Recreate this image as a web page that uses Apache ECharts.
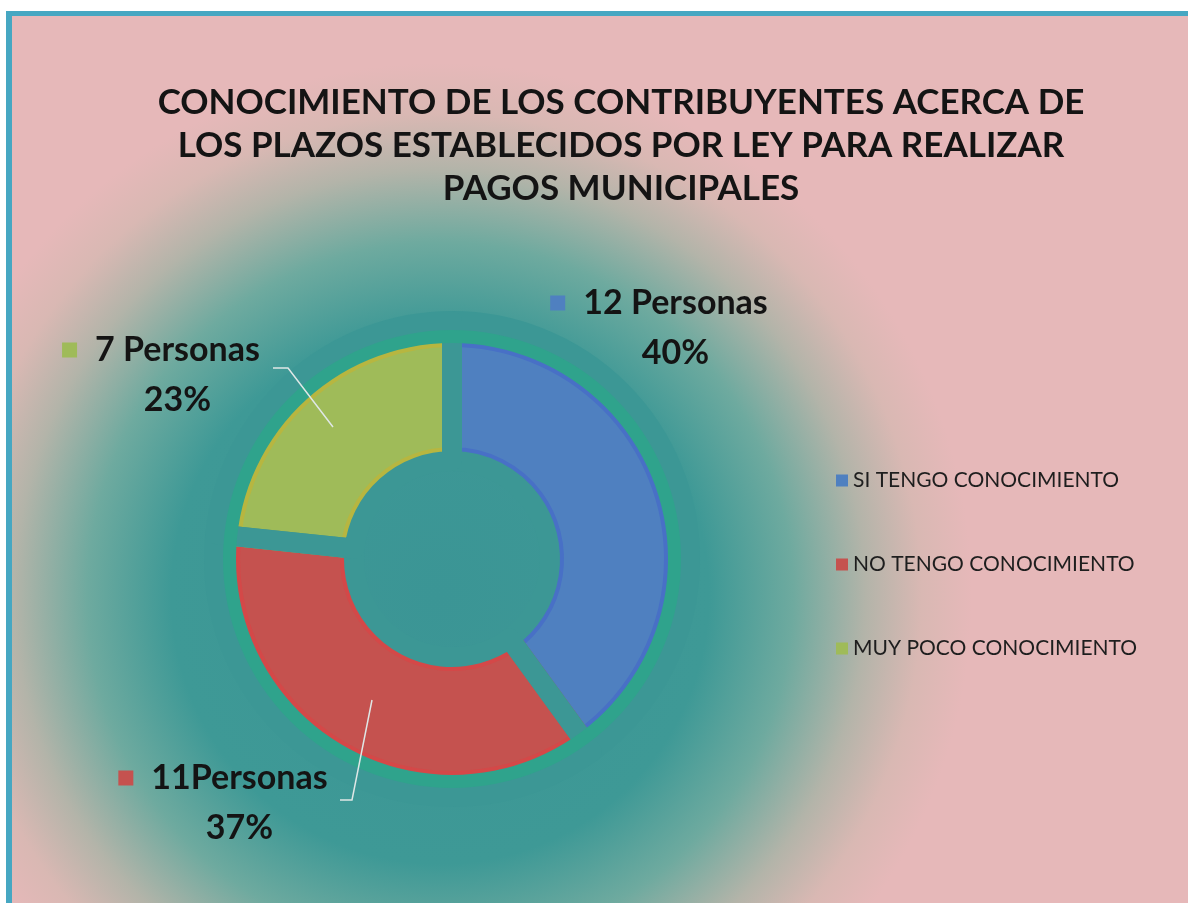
<!DOCTYPE html>
<html>
<head>
<meta charset="utf-8">
<script src="https://cdn.jsdelivr.net/npm/echarts@6/dist/echarts.min.js"></script>
<style>
html, body { margin: 0; padding: 0; background: #fff; }
#chart { width: 1188px; height: 903px; }
</style>
</head>
<body>
<div id="chart"></div>
<script>
var titleText = 'CONOCIMIENTO DE LOS CONTRIBUYENTES ACERCA DE\nLOS PLAZOS ESTABLECIDOS POR LEY PARA REALIZAR\nPAGOS MUNICIPALES';
var categories = ['SI TENGO CONOCIMIENTO', 'NO TENGO CONOCIMIENTO', 'MUY POCO CONOCIMIENTO'];
var personas = [12, 11, 7];
var labelNames = ['12 Personas', '11Personas', '7 Personas'];
var colors = ['#4f80c0', '#c5524f', '#9fbb59'];
var edgeColors = ['#4870c6', '#d44848', '#b7b640'];

var chart = echarts.init(document.getElementById('chart'));

var center = [452, 559];
var gapColor = '#3c9795';
var ringColor = '#2fa38c';
// where each label block sits, and its leader line
var labelPos = [[659, 328], [223, 803], [161, 375]];
var linePts = [null, [[372, 700], [352, 800], [340, 800]], [[333, 427], [288, 368], [273, 368]]];

var pieData = categories.map(function (name, i) {
    return {
        name: name,
        value: personas[i],
        itemStyle: { color: colors[i], borderColor: edgeColors[i] },
        labelLine: { show: linePts[i] != null }
    };
});

var rich = {
    sp: { width: 18 },
    pad: { width: 33 },
    t: { fontSize: 34, fontWeight: 'bold', fontFamily: 'Lato', color: '#141414', lineHeight: 50 }
};
colors.forEach(function (c, i) {
    rich['sq' + i] = { width: 15, height: 15, backgroundColor: c };
});

var option = {
    animation: false,
    graphic: [
        { type: 'rect', z: -10, silent: true, shape: { x: 0, y: 0, width: 1188, height: 903 }, style: { fill: '#fff' } },
        { type: 'rect', z: -9, silent: true, shape: { x: 6, y: 11, width: 1200, height: 900 }, style: { fill: '#46a7c2' } },
        {
            type: 'rect', z: -8, silent: true,
            shape: { x: 12, y: 16, width: 1200, height: 900 },
            style: {
                fill: new echarts.graphic.RadialGradient(440, 595, 560, [
                    { offset: 0, color: '#3b9595' },
                    { offset: 0.48, color: '#3e9996' },
                    { offset: 0.63, color: '#6eaa9f' },
                    { offset: 0.76, color: '#b3b4a9' },
                    { offset: 0.86, color: '#d9b8b3' },
                    { offset: 0.95, color: '#e6b8b9' }
                ], true)
            }
        }
    ],
    title: {
        text: titleText,
        left: 621,
        top: 81,
        textAlign: 'center',
        padding: 0,
        textStyle: { fontSize: 35, fontWeight: 'bold', fontFamily: 'Lato', color: '#141414', lineHeight: 43 }
    },
    legend: {
        orient: 'vertical',
        left: 831,
        top: 465,
        itemWidth: 12,
        itemHeight: 12,
        itemGap: 63,
        icon: 'rect',
        selectedMode: false,
        data: categories.map(function (name, i) {
            return { name: name, itemStyle: { color: colors[i], borderWidth: 0 } };
        }),
        textStyle: { fontSize: 21, fontFamily: 'Lato', color: '#1e1e1e' }
    },
    series: [
        {
            // segments, with a darker rim on the arcs
            type: 'pie', silent: true, z: 2, center: center, radius: [102, 222],
            label: { show: false }, labelLine: { show: false },
            itemStyle: { borderWidth: 20 },
            data: pieData
        },
        {
            // constant width gaps between segments
            type: 'pie', silent: true, z: 3, center: center, radius: [98, 238],
            label: { show: false }, labelLine: { show: false },
            itemStyle: { color: 'rgba(0,0,0,0)', borderColor: gapColor, borderWidth: 20 },
            data: pieData.map(function (d) { return { name: d.name, value: d.value }; })
        },
        {
            // outer rim
            type: 'pie', silent: true, z: 4, center: center, radius: [216, 229],
            label: { show: false }, labelLine: { show: false },
            itemStyle: { color: ringColor, borderWidth: 0 },
            data: [{ name: 'rim', value: 1 }]
        },
        {
            // labels
            type: 'pie', silent: true, z: 5, center: center, radius: [112, 214],
            itemStyle: { color: 'rgba(0,0,0,0)', borderWidth: 0 },
            label: {
                show: true,
                position: 'outside',
                formatter: function (p) {
                    return '{sq' + p.dataIndex + '|}{sp|}{t|' + labelNames[p.dataIndex] + '}\n{pad|}{t|' + Math.round(p.percent) + '%}';
                },
                rich: rich
            },
            labelLine: { show: true, lineStyle: { color: '#dfe7e6', width: 1.5 } },
            labelLayout: function (p) {
                var i = p.dataIndex;
                var out = { x: labelPos[i][0], y: labelPos[i][1], align: 'center', verticalAlign: 'middle' };
                if (linePts[i]) out.labelLinePoints = linePts[i];
                return out;
            },
            data: pieData.map(function (d) { return { name: d.name, value: d.value, labelLine: d.labelLine }; })
        }
    ]
};

chart.setOption(option);
</script>
</body>
</html>
